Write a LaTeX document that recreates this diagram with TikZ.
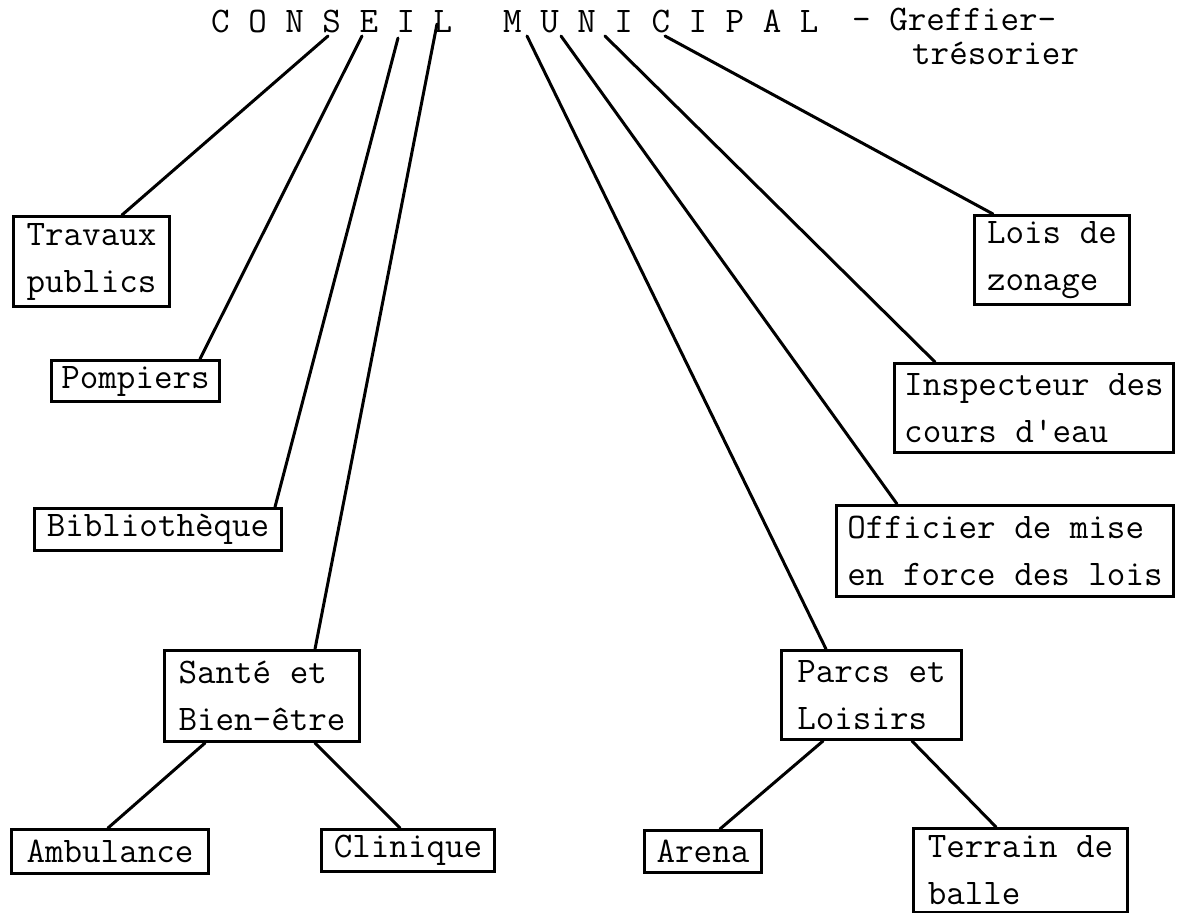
\documentclass[tikz,border=0pt]{standalone}
\usepackage{fontspec}
\newfontfamily\orgff{Latin Modern Mono}
\newcommand{\orgfont}{\orgff\fontsize{36}{47}\selectfont}
\begin{document}
\begin{tikzpicture}[x=1pt,y=-1pt,
  orgbox/.style={draw, line width=3pt, inner xsep=3pt, inner ysep=0pt,
    align=left, anchor=north west, font=\orgfont},
  ttl/.style={inner sep=0pt, anchor=base west, font=\orgfont},
  link/.style={line width=3pt, line cap=round}]
\useasboundingbox (0,0) rectangle (1200,913);
\fill[white] (0,0) rectangle (1200,913);

% title
\node[ttl] (conseil) at (211,32) {C O N S E I L};
\node[ttl] (municipal) at (503,32) {M U N I C I P A L};
\node[ttl] (greffier) at (852,30) {- Greffier-};
\node[ttl] (tresorier) at (912,64) {trésorier};

\coordinate (tS) at (328,36);
\coordinate (tE) at (362,36);
\coordinate (tI) at (398,38);
\coordinate (tL) at (437,24);
\coordinate (tM) at (527,36);
\coordinate (tU) at (561,36);
\coordinate (tN) at (605,36);
\coordinate (tC) at (665,36);

% left column
\node[orgbox, minimum width=156pt, minimum height=90pt] (trav) at (12,215) {Travaux\\publics};
\node[orgbox, minimum width=168pt, minimum height=41pt] (pomp) at (50,359) {Pompiers};
\node[orgbox, minimum width=247pt, minimum height=42pt] (biblio) at (33,507) {Bibliothèque};
\node[orgbox, minimum width=195pt, minimum height=91pt] (sante) at (163,649) {Santé et\\Bien-être};
\node[orgbox, minimum width=197pt, minimum height=44pt] (amb) at (10,828) {Ambulance};
\node[orgbox, minimum width=173pt, minimum height=42pt] (clin) at (320,828) {Clinique};

% right column
\node[orgbox, minimum width=155pt, minimum height=89pt] (lois) at (973,214) {Lois de\\zonage};
\node[orgbox, minimum width=279pt, minimum height=89pt] (insp) at (893,362) {Inspecteur des\\cours d'eau};
\node[orgbox, minimum width=337pt, minimum height=91pt] (offi) at (835,504) {Officier de mise\\en force des lois};
\node[orgbox, minimum width=180pt, minimum height=89pt] (parcs) at (780,649) {Parcs et\\Loisirs};
\node[orgbox, minimum width=117pt, minimum height=42pt] (arena) at (643,829) {Arena};
\node[orgbox, minimum width=214pt, minimum height=84pt] (terrain) at (912,827) {Terrain de\\balle};

% connectors from the title
\draw[link] (tS) -- ([xshift=110pt]trav.north west);
\draw[link] (tE) -- ([xshift=150pt]pomp.north west);
\draw[link] (tI) -- ([xshift=242pt]biblio.north west);
\draw[link] (tL) -- ([xshift=152pt]sante.north west);
\draw[link] (tM) -- ([xshift=46pt]parcs.north west);
\draw[link] (tU) -- ([xshift=62pt]offi.north west);
\draw[link] (tN) -- ([xshift=42pt]insp.north west);
\draw[link] (tC) -- ([xshift=20pt]lois.north west);

% sub-branches
\draw[link] ([xshift=42pt]sante.south west) -- ([xshift=98pt]amb.north west);
\draw[link] ([xshift=152pt]sante.south west) -- ([xshift=80pt]clin.north west);
\draw[link] ([xshift=43pt]parcs.south west) -- ([xshift=77pt]arena.north west);
\draw[link] ([xshift=132pt]parcs.south west) -- ([xshift=84pt]terrain.north west);
\end{tikzpicture}
\end{document}
